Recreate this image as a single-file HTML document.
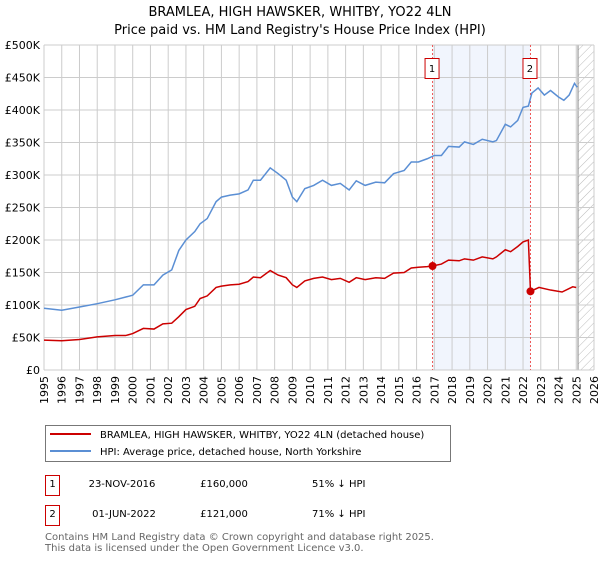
<!DOCTYPE html>
<html><head><meta charset="utf-8"><style>
body{margin:0;background:#fff;width:600px;height:560px;overflow:hidden;font-family:"DejaVu Sans","Liberation Sans",sans-serif}
svg text{font-family:"DejaVu Sans","Liberation Sans",sans-serif}
</style></head><body>
<svg id="chart" width="600" height="560" xmlns="http://www.w3.org/2000/svg">
<text x="300" y="16" text-anchor="middle" font-size="13">BRAMLEA, HIGH HAWSKER, WHITBY, YO22 4LN</text>
<text x="300" y="34" text-anchor="middle" font-size="13">Price paid vs. HM Land Registry's House Price Index (HPI)</text>
<g id="grid"></g><g id="series"></g>
<g>
<rect x="45.5" y="425.5" width="405" height="36" fill="#fff" stroke="#777"/>
<line x1="50" y1="434" x2="91" y2="434" stroke="#cc0000" stroke-width="2"/>
<text x="100" y="438" font-size="10">BRAMLEA, HIGH HAWSKER, WHITBY, YO22 4LN (detached house)</text>
<line x1="50" y1="451" x2="91" y2="451" stroke="#5b8fd4" stroke-width="2"/>
<text x="100" y="455" font-size="10">HPI: Average price, detached house, North Yorkshire</text>
</g>
<g font-size="10">
<rect x="45.5" y="475.5" width="14" height="20" fill="#fff" stroke="#cc0000"/>
<text x="52.5" y="487" text-anchor="middle">1</text>
<text x="122" y="487" text-anchor="middle">23-NOV-2016</text>
<text x="224" y="487" text-anchor="middle">£160,000</text>
<text x="312" y="487">51% ↓ HPI</text>
<rect x="45.5" y="505.5" width="14" height="20" fill="#fff" stroke="#cc0000"/>
<text x="52.5" y="517" text-anchor="middle">2</text>
<text x="124" y="517" text-anchor="middle">01-JUN-2022</text>
<text x="224" y="517" text-anchor="middle">£121,000</text>
<text x="312" y="517">71% ↓ HPI</text>
</g>
<text x="45" y="540" font-size="10" fill="#666">Contains HM Land Registry data © Crown copyright and database right 2025.</text>
<text x="45" y="551" font-size="10" fill="#666">This data is licensed under the Open Government Licence v3.0.</text>
</svg>
<script>
const yTicks=[0,50,100,150,200,250,300,350,400,450,500];
const yTickLabels=["£0","£50K","£100K","£150K","£200K","£250K","£300K","£350K","£400K","£450K","£500K"];
const years=[1995,1996,1997,1998,1999,2000,2001,2002,2003,2004,2005,2006,2007,2008,2009,2010,2011,2012,2013,2014,2015,2016,2017,2018,2019,2020,2021,2022,2023,2024,2025,2026];
const hpiT=[1995,1996,1997,1998,1999,2000,2000.6,2001.2,2001.7,2002.2,2002.6,2003,2003.5,2003.8,2004.2,2004.7,2005,2005.5,2006,2006.5,2006.8,2007.2,2007.75,2008.2,2008.65,2009,2009.25,2009.7,2010.2,2010.7,2011.2,2011.7,2012.2,2012.6,2013.1,2013.7,2014.2,2014.7,2015.3,2015.7,2016.1,2016.6,2017,2017.4,2017.8,2018.4,2018.7,2019.2,2019.7,2020.3,2020.5,2021,2021.3,2021.7,2022,2022.3,2022.5,2022.85,2023.2,2023.55,2024,2024.3,2024.6,2024.9,2025.05];
const hpiV=[95,92,97,102,108,115,131,131,146,154,184,200,213,225,233,259,266,269,271,277,292,292,311,302,292,266,259,279,284,292,284,287,277,291,284,289,288,302,307,320,320,325,330,330,344,343,351,347,355,351,353,378,374,384,404,406,426,434,423,430,420,415,423,441,435];
const priceT=[1995,1996,1997,1998,1999,1999.6,2000,2000.6,2001.2,2001.7,2002.2,2002.6,2003,2003.5,2003.8,2004.2,2004.7,2005,2005.5,2006,2006.5,2006.8,2007.2,2007.75,2008.2,2008.65,2009,2009.25,2009.7,2010.2,2010.7,2011.2,2011.7,2012.2,2012.6,2013.1,2013.7,2014.2,2014.7,2015.3,2015.7,2016.1,2016.6,2016.9,2017.4,2017.8,2018.4,2018.7,2019.2,2019.7,2020.3,2020.5,2021,2021.3,2021.7,2022,2022.3,2022.42,2022.9,2023.55,2024.2,2024.8,2025];
const priceV=[46,45,47,51,53,53,56,64,63,71,72,82,93,98,110,114,127,129,131,132,136,143,142,153,146,142,131,127,137,141,143,139,141,135,142,139,142,141,149,150,157,158,159,160,163,169,168,171,169,174,171,174,185,182,190,197,200,121,127,123,120,128,127];
const saleT=[2016.9,2022.42];
const saleV=[160,121];
const saleLabels=["1","2"];
const X0=44,X1=594,Y0=370,Y1=45;
const xs=t=>X0+(t-1995)/(2026-1995)*(X1-X0);
const ys=v=>Y0-v/500*(Y0-Y1);
const NS="http://www.w3.org/2000/svg";
const grid=document.getElementById('grid'),ser=document.getElementById('series');
function mk(tag,at,parent){const e=document.createElementNS(NS,tag);for(const k in at)e.setAttribute(k,at[k]);parent.appendChild(e);return e;}
// shaded region
let r=mk('rect',{x:xs(saleT[0]),y:Y1,width:xs(saleT[1])-xs(saleT[0]),height:Y0-Y1,fill:'#eef3fd',opacity:0.8},grid);


// hatched future
const defs=mk('defs',{},grid);
const pat=mk('pattern',{id:'hatch',width:6,height:6,patternUnits:'userSpaceOnUse',patternTransform:'rotate(45)'},defs);
mk('line',{x1:0,y1:0,x2:0,y2:6,stroke:'#bbb','stroke-width':1},pat);
let h=mk('rect',{x:xs(2025.1),y:Y1,width:X1-xs(2025.1),height:Y0-Y1,fill:'url(#hatch)'},grid);


years.forEach(y=>{
 let l=mk('line',{x1:xs(y),x2:xs(y),y1:Y1,y2:Y0,stroke:'#cccccc','stroke-width':1},grid);
 
 
 let t=mk('text',{x:0,y:0,'font-size':11,'text-anchor':'end',transform:`translate(${xs(y)+4},${Y0+6}) rotate(-90)`},grid);
 t.textContent=y;
 
 
});
mk('line',{x1:xs(2025.1),x2:xs(2025.1),y1:Y1,y2:Y0,stroke:'#888','stroke-width':1},grid);
yTicks.forEach((v,i)=>{
 let l=mk('line',{x1:X0,x2:X1,y1:ys(v),y2:ys(v),stroke:'#cccccc','stroke-width':1},grid);
 
 
 let t=mk('text',{x:X0-4,y:ys(v)+4,'font-size':11,'text-anchor':'end'},grid);
 t.textContent=yTickLabels[i];
 
 
});
saleT.forEach((s,i)=>{
 let l=mk('line',{x1:xs(s),x2:xs(s),y1:Y1,y2:Y0,stroke:'#ee5555','stroke-width':1,'stroke-dasharray':'2,2'},grid);
 
 
 let b=mk('rect',{x:xs(s)-7.5,y:58.5,width:14,height:20,fill:'#fff',stroke:'#cc0000'},grid);
 
 
 let t=mk('text',{x:xs(s)-0.5,y:72,'font-size':10,'text-anchor':'middle'},grid);
 t.textContent=saleLabels[i];
 
 
});
let p1=mk('polyline',{points:hpiT.map((t,i)=>xs(t)+','+ys(hpiV[i])).join(' '),fill:'none',stroke:'#5b8fd4','stroke-width':1.5},ser);


let p2=mk('polyline',{points:priceT.map((t,i)=>{const x=(priceT[i]===saleT[1])?xs(t)-0.01:0;return xs(t)+','+ys(priceV[i]);}).join(' '),fill:'none',stroke:'#cc0000','stroke-width':1.5},ser);


saleT.forEach((s,i)=>{
 let c=mk('circle',{cx:xs(s),cy:ys(saleV[i]),r:4,fill:'#cc0000'},ser);
 
 
});
</script>
</body></html>
